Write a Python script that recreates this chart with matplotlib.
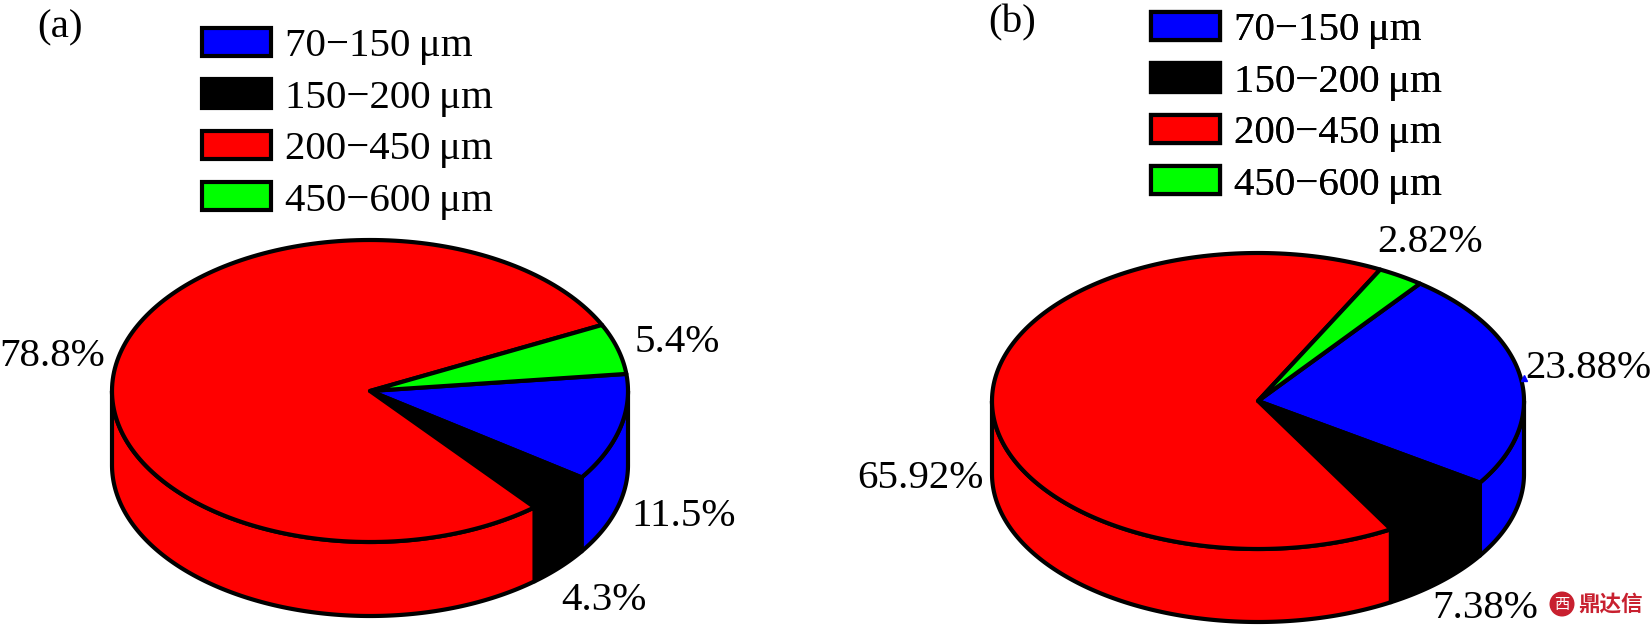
import numpy as np
from matplotlib import pyplot as plt
from matplotlib.patches import Patch, Circle

plt.rcParams['font.family'] = ['Liberation Serif', 'DejaVu Serif']

W, H = 1651, 627

categories = ['70\u2212150\u2009\u03bcm', '150\u2212200\u2009\u03bcm', '200\u2212450\u2009\u03bcm', '450\u2212600\u2009\u03bcm']
colors = ['#0000ff', '#000000', '#ff0000', '#00ff00']

values_a = [11.5, 4.3, 78.8, 5.4]
values_b = [23.88, 7.38, 65.92, 2.82]
labels_a = ['11.5%', '4.3%', '78.8%', '5.4%']
labels_b = ['23.88%', '7.38%', '65.92%', '2.82%']


def arc(cx, cy, rx, ry, t0, t1):
    t = np.radians(np.linspace(t0, t1, 200))
    return cx + rx * np.cos(t), cy - ry * np.sin(t)


def DrawPie(ax, values, start, cx, cy, rx, ry, depth):
    # clockwise from start, same order as the legend
    angles = start - np.concatenate([[0], np.cumsum(values)]) * 3.6
    # side wall first, only the front half shows
    for i, c in enumerate(colors):
        hi, lo = angles[i], angles[i + 1]
        for shift in (0, -360):
            a = min(hi + shift, 0)
            b = max(lo + shift, -180)
            if a <= b:
                continue
            x, y = arc(cx, cy, rx, ry, a, b)
            ax.fill(np.r_[x, x[::-1]], np.r_[y, y[::-1] + depth], fc=c, ec='k', lw=3, joinstyle='round', zorder=2)
    for i, c in enumerate(colors):
        x, y = arc(cx, cy, rx, ry, angles[i], angles[i + 1])
        ax.fill(np.r_[cx, x], np.r_[cy, y], fc=c, ec='k', lw=3, joinstyle='round', zorder=3)


def DrawLegend(ax, x, y):
    handles = [Patch(facecolor=c, edgecolor='k', linewidth=3, joinstyle='round') for c in colors]
    leg = ax.legend(handles, categories, loc='upper left', bbox_to_anchor=(x, y), bbox_transform=ax.transData,
                    frameon=False, fontsize=29.5, borderpad=0, borderaxespad=0, handlelength=1.68, handleheight=0.68,
                    handletextpad=0.34, labelspacing=0.34)
    ax.add_artist(leg)


fig = plt.figure(figsize=(W / 100, H / 100), dpi=100)
ax = fig.add_axes([0, 0, 1, 1])
ax.set_xlim(0, W)
ax.set_ylim(H, 0)
ax.axis('off')

DrawPie(ax, values_a, 6.5, 370, 391, 258, 151, 74)
DrawPie(ax, values_b, 52.5, 1258, 401, 266, 148, 73)

DrawLegend(ax, 202, 28)
DrawLegend(ax, 1151, 12)

FS = 29.5
ax.text(60, 28, '(a)', fontsize=FS, ha='center', va='center')
ax.text(1012, 23, '(b)', fontsize=FS, ha='center', va='center')

pos_a = [(684, 516), (604, 600), (52, 356), (677, 342)]
pos_b = [(1588, 369), (1485, 608), (920, 479), (1430, 243)]
for lab, (x, y) in zip(labels_a, pos_a):
    ax.text(x, y, lab, fontsize=FS, ha='center', va='center', zorder=5)
for lab, (x, y) in zip(labels_b, pos_b):
    ax.text(x, y, lab, fontsize=FS, ha='center', va='center', zorder=5)

# stray blue tick next to the 23.88% label
ax.plot([1524], [378], marker='^', ms=5, color='#0000ff', ls='none', zorder=6)

# watermark
ax.add_patch(Circle((1562, 604), 12.5, fc='#c8202f', ec='none', zorder=6))
ax.text(1562, 604, '\u897f', fontsize=11, color='w', ha='center', va='center', family=['Noto Sans CJK SC'], zorder=7)
ax.text(1578, 604, '鼎达信', fontsize=15.5, color='#c8202f', ha='left', va='center', weight='bold',
        family=['Noto Sans CJK SC'], zorder=7)

fig.savefig('out.png', dpi=100)
